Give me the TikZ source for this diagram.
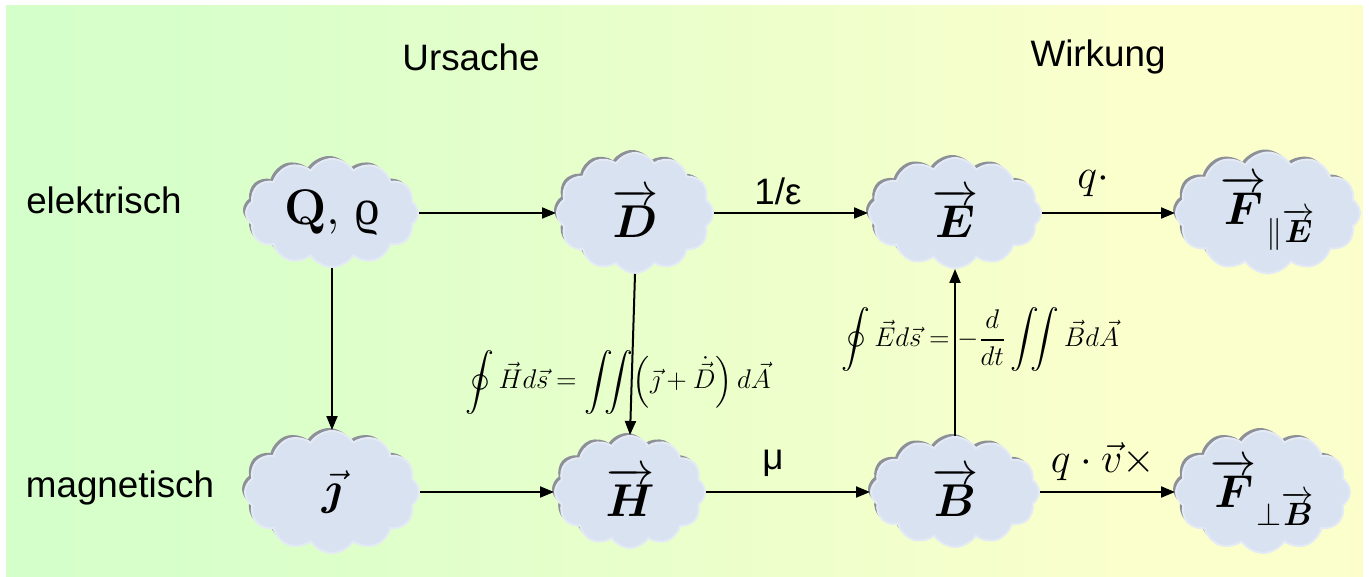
\RequirePackage{fix-cm}
\documentclass[tikz,border=0pt]{standalone}
\usepackage{amsmath}
\usepackage{bm}
\usepackage[no-math]{fontspec}
\setmainfont{Liberation Sans}
\newfontfamily\serifgreek{Liberation Serif}
\usetikzlibrary{shapes.symbols,arrows.meta,shadows}
\definecolor{bgA}{HTML}{D0FFCC}
\definecolor{bgB}{HTML}{D6FFCA}
\definecolor{bgC}{HTML}{FAFFCC}
\definecolor{bgD}{HTML}{FFFDCA}
\definecolor{cloudfill}{HTML}{D9E2F0}
\definecolor{cloudedge}{HTML}{E4EAF5}
\definecolor{cloudshadow}{HTML}{8E9098}
\pgfdeclarehorizontalshading{bgshade}{100bp}{color(0bp)=(bgA); color(30bp)=(bgB); color(66bp)=(bgC); color(100bp)=(bgD)}
\tikzset{
  cl/.style={cloud, cloud puffs=12, cloud puff arc=115, cloud ignores aspect,
    fill=cloudfill, draw=cloudedge, line width=1pt, inner sep=0pt,
    drop shadow={shadow xshift=-1.5pt, shadow yshift=1.5pt, fill=cloudshadow, opacity=1},
    font=\fontsize{23}{28}\selectfont},
  arr/.style={-{Triangle[length=7pt,width=5.5pt]}, line width=1pt, black},
  lab/.style={font=\fontsize{18.4}{22}\selectfont, inner sep=0pt},
  qlab/.style={font=\fontsize{21}{25}\selectfont, inner sep=0pt},
  frm/.style={font=\fontsize{13.5}{16}\selectfont, inner sep=0pt}
}
\begin{document}
\begin{tikzpicture}[x=0.5pt,y=-0.5pt]
\useasboundingbox (0,0) rectangle (1369,577);
\shade[shading=bgshade] (6,6) rectangle (1363,576);

\node[lab] (urs) at (471,57) {Ursache};
\node[lab] (wirk) at (1098,57) {Wirkung};
\node[lab] (el) at (104,200) {elektrisch};
\node[lab] (mag) at (120,488) {magnetisch};

\node[cl, minimum width=86pt, minimum height=54pt] (q) at (332,213) {\fontsize{25}{30}\selectfont$\mathbf{Q,}$\ {\serifgreek ϱ}};
\node[cl, minimum width=78pt, minimum height=60pt] (d) at (635,213) {$\overrightarrow{\bm{D}}$};
\node[cl, minimum width=86pt, minimum height=55pt] (e) at (955,213) {$\overrightarrow{\bm{E}}$};
\node[cl, minimum width=92pt, minimum height=56pt] (fe) at (1268,213) {$\overrightarrow{\bm{F}}_{\parallel\overrightarrow{\bm{E}}}$};

\node[cl, minimum width=87pt, minimum height=61pt] (j) at (332,492) {$\vec{\bm{\jmath}}$};
\node[cl, minimum width=75pt, minimum height=56pt] (h) at (630,492) {$\overrightarrow{\bm{H}}$};
\node[cl, minimum width=84pt, minimum height=55pt] (b) at (955,492) {$\overrightarrow{\bm{B}}$};
\node[cl, minimum width=87pt, minimum height=61pt] (fb) at (1263,492) {$\overrightarrow{\bm{F}}_{\perp\overrightarrow{\bm{B}}}$};

\draw[arr] (q.east) -- (d.west);
\draw[arr] (d.east) -- (e.west);
\draw[arr] (e.east) -- (fe.west);
\draw[arr] (j.east) -- (h.west);
\draw[arr] (h.east) -- (b.west);
\draw[arr] (b.east) -- (fb.west);
\draw[arr] (q.south) -- (j.north);
\draw[arr] (d.south) -- (h.north);
\draw[arr] (b.north) -- (e.south);

\node[lab] (eps) at (778,191) {1/ε};
\node[lab] (mu) at (773,463) {μ};
\node[qlab] (qd) at (1093,183) {$q\cdot$};
\node[qlab] (qv) at (1103,462) {$q\cdot\vec{v}\times$};

\node[frm] (amp) at (618,382) {$\displaystyle\oint \vec{H} d\vec{s} = \iint\!\left(\vec{\jmath}+\dot{\vec{D}}\right) d\vec{A}$};
\node[frm] (far) at (980,340) {$\displaystyle\oint \vec{E} d\vec{s} = -\frac{d}{dt}\iint \vec{B} d\vec{A}$};
\end{tikzpicture}
\end{document}
